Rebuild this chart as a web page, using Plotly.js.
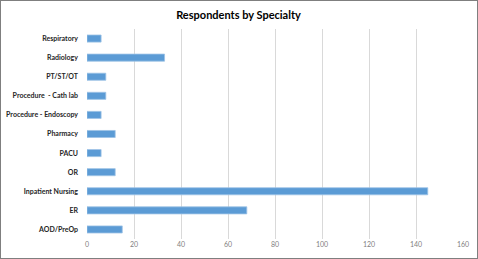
<!DOCTYPE html>
<html><head><meta charset="utf-8">
<script src="https://cdn.plot.ly/plotly-3.0.1.min.js"></script>
<style>
html,body{margin:0;padding:0;background:#fff;}
#chart{width:476px;height:257px;border:1px solid #7f7f7f;border-right-width:2px;border-bottom-width:2px;}
</style></head>
<body><div id="chart"></div>
<script>
const categories = ["AOD/PreOp","ER","Inpatient Nursing","OR","PACU","Pharmacy","Procedure - Endoscopy","Procedure  - Cath lab","PT/ST/OT","Radiology","Respiratory"];
const values = [15,68,145,12,6,12,6,8,8,33,6];
const xTicks = [0,20,40,60,80,100,120,140,160];

Plotly.newPlot('chart',[{
  type:'bar', orientation:'h', x:values, y:categories,
  marker:{color:'#5B9BD5', line:{color:'#9DC3E6', width:0.8}},
  hoverinfo:'skip'
}],{
  width:475, height:256,
  margin:{l:86,r:13,t:28,b:18},
  paper_bgcolor:'#fff', plot_bgcolor:'#fff',
  bargap:0.63,
  showlegend:false,
  title:{text:'<b>Respondents by Specialty</b>', x:0.5, xanchor:'center', y:0.945, yanchor:'middle',
    font:{family:'Lato, "Open Sans", sans-serif', size:11, color:'#000'}},
  xaxis:{range:[0,160], tickvals:xTicks, ticktext:xTicks.map(String),
    showgrid:true, gridcolor:'#D9D9D9', gridwidth:1, zeroline:false, showline:false,
    ticks:'', tickfont:{family:'Lato, "Open Sans", sans-serif', size:7, color:'#7f7f7f'}, fixedrange:true},
  yaxis:{type:'category', categoryarray:categories, categoryorder:'array', range:[-0.5,10.5],
    showgrid:false, zeroline:false, showline:false, ticks:'', ticklabelstandoff:8,
    tickfont:{family:'Lato, "Open Sans", sans-serif', size:7, color:'#262626', weight:'bold'}, fixedrange:true}
},{displayModeBar:false, staticPlot:true});
</script></body></html>
